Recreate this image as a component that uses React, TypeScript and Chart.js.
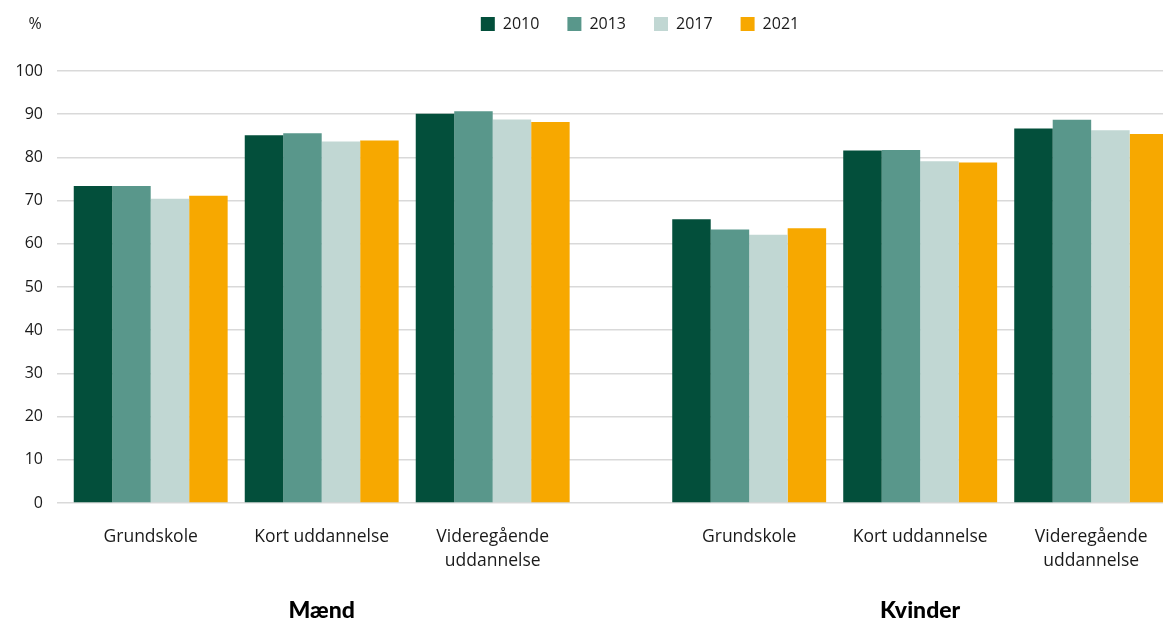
import React, { useEffect, useRef } from 'react';
import { Chart, registerables } from 'chart.js';

Chart.register(...registerables);

// ---- data ----
const years = ['2010', '2013', '2017', '2021'];
const seriesColors = ['#034f3b', '#59978b', '#c1d7d3', '#f7a800'];
const categoryLabels: (string | string[])[] = [
  'Grundskole',
  'Kort uddannelse',
  ['Videregående', 'uddannelse'],
  'Grundskole',
  'Kort uddannelse',
  ['Videregående', 'uddannelse'],
];
const categoryPositions = [0, 1, 2, 3.5, 4.5, 5.5];
const groupLabels = ['Mænd', 'Kvinder'];
const groupPositions = [1, 4.5];
const values2010 = [73.4, 85.1, 90.1, 65.7, 81.6, 86.7];
const values2013 = [73.4, 85.6, 90.7, 63.3, 81.7, 88.7];
const values2017 = [70.4, 83.7, 88.8, 62.1, 79.1, 86.3];
const values2021 = [71.1, 83.9, 88.2, 63.6, 78.8, 85.4];
const seriesValues = [values2010, values2013, values2017, values2021];
const yUnit = '%';

const FONT = "'Open Sans', 'Lato', sans-serif";

const legendPlugin = {
  id: 'legendTweak',
  beforeInit(chart: any) {
    const legend = chart.legend;
    if (!legend) return;
    const orig = legend.fit;
    legend.fit = function () {
      orig.call(this);
      this.height += 17;
    };
  },
  afterLayout(chart: any) {
    const legend = chart.legend;
    if (!legend) return;
    legend.left += 117;
    legend.top -= 12;
    legend.bottom -= 12;
  },
};

const unitPlugin = {
  id: 'unitLabel',
  afterDraw(chart: any) {
    const ctx = chart.ctx;
    ctx.save();
    ctx.font = `16px ${FONT}`;
    ctx.fillStyle = '#1a1a1a';
    ctx.textAlign = 'center';
    ctx.textBaseline = 'middle';
    ctx.fillText(yUnit, 35, 24);
    ctx.restore();
  },
};

export default function App() {
  const ref = useRef<HTMLCanvasElement | null>(null);
  useEffect(() => {
    if (!ref.current) return;
    const chart = new Chart(ref.current, {
      type: 'bar',
      data: {
        datasets: years.map((y, si) => ({
          label: y,
          data: categoryPositions.map((x, i) => ({ x, y: seriesValues[si][i] })),
          backgroundColor: seriesColors[si],
          borderWidth: 0,
          barPercentage: 1,
          categoryPercentage: 0.9,
        })),
      },
      options: {
        animation: false,
        responsive: true,
        maintainAspectRatio: false,
        layout: { padding: { top: 0, left: 0, right: 0, bottom: 0 } },
        plugins: {
          legend: {
            position: 'top',
            align: 'center',
            labels: {
              boxWidth: 14,
              boxHeight: 14,
              padding: 28,
              color: '#1a1a1a',
              font: { family: FONT, size: 16 },
            },
          },
          tooltip: { enabled: false },
        },
        scales: {
          x: {
            type: 'linear',
            position: 'bottom',
            weight: 0,
            offset: false,
            min: -0.548,
            max: 5.92,
            grid: { display: false, drawTicks: false },
            border: { display: false },
            afterBuildTicks: (scale: any) => {
              scale.ticks = categoryPositions.map((v) => ({ value: v }));
            },
            afterFit: (scale: any) => {
              scale.height = 70;
              scale.paddingLeft = 0;
              scale.paddingRight = 0;
            },
            ticks: {
              autoSkip: false,
              maxRotation: 0,
              padding: 22,
              color: '#1a1a1a',
              font: { family: FONT, size: 17.5, lineHeight: 1.37 },
              callback: (_v: any, i: number) => categoryLabels[i],
            },
          },
          grp: {
            type: 'linear',
            position: 'bottom',
            weight: 1,
            offset: false,
            min: -0.548,
            max: 5.92,
            grid: { display: false, drawTicks: false },
            border: { display: false },
            afterBuildTicks: (scale: any) => {
              scale.ticks = groupPositions.map((v) => ({ value: v }));
            },
            afterFit: (scale: any) => {
              scale.height = 46;
              scale.paddingLeft = 0;
              scale.paddingRight = 0;
            },
            ticks: {
              autoSkip: false,
              maxRotation: 0,
              padding: 26,
              color: '#000000',
              font: { family: 'Lato', size: 23, weight: '900', lineHeight: 1 },
              callback: (_v: any, i: number) => groupLabels[i],
            },
          },
          y: {
            min: 0,
            max: 100,
            afterFit: (scale: any) => {
              scale.width = 57;
            },
            grid: { color: '#d9d9d9', lineWidth: 1.5, drawTicks: false },
            border: { display: false },
            ticks: {
              stepSize: 10,
              padding: 14,
              color: '#1a1a1a',
              font: { family: FONT, size: 16 },
            },
          },
        },
      } as any,
      plugins: [legendPlugin, unitPlugin],
    });
    return () => chart.destroy();
  }, []);

  return (
    <div style={{ position: 'fixed', left: 0, top: 0, width: 1163, height: 619, background: '#fff' }}>
      <canvas ref={ref} />
    </div>
  );
}
